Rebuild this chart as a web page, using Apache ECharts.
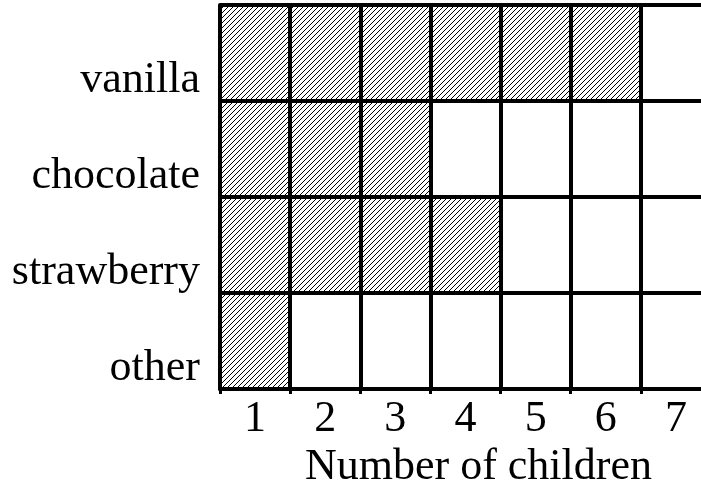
<!DOCTYPE html>
<html>
<head>
  <meta charset="UTF-8">
  <title>Number of children</title>
  <script src="https://cdn.jsdelivr.net/npm/echarts@6/dist/echarts.min.js"></script>
  <style>
    html, body { margin: 0; padding: 0; background: #fff; }
    #chart { width: 701px; height: 483px; }
  </style>
</head>
<body>
  <div id="chart"></div>
  <script>
    // data
    var flavours = ['other', 'strawberry', 'chocolate', 'vanilla'];
    var counts = [1, 4, 3, 6];
    var childTicks = ['1', '2', '3', '4', '5', '6', '7'];

    // hatch pattern "/" lines, 5px period
    function makeHatch() {
      var c = document.createElement('canvas');
      c.width = 5;
      c.height = 5;
      var ctx = c.getContext('2d');
      ctx.fillStyle = '#fff';
      ctx.fillRect(0, 0, 5, 5);
      ctx.fillStyle = '#000';
      for (var i = 0; i < 5; i++) {
        ctx.fillRect(i, 4 - i, 1, 1);
      }
      return c;
    }

    var font = '"Liberation Serif", "Times New Roman", serif';
    var chart = echarts.init(document.getElementById('chart'));

    chart.setOption({
      animation: false,
      grid: {
        left: 220, top: 5, width: 491, height: 384,
        containLabel: false, outerBoundsMode: 'none'
      },
      xAxis: [
        {
          type: 'category',
          data: childTicks,
          z: 5,
          axisLine: { lineStyle: { color: '#000', width: 4 } },
          axisTick: { show: true, length: 5, lineStyle: { color: '#000', width: 3 } },
          axisLabel: { color: '#000', fontFamily: font, fontSize: 44, margin: 8 },
          splitLine: { show: true, lineStyle: { color: '#000', width: 4 } },
          name: 'Number of children',
          nameLocation: 'middle',
          nameGap: 41,
          nameTextStyle: { color: '#000', fontFamily: font, fontSize: 44, padding: [0, 0, 0, 26] }
        },
        { type: 'value', min: 0, max: 7, show: false }
      ],
      yAxis: {
        type: 'category',
        data: flavours,
        z: 5,
        axisLine: { lineStyle: { color: '#000', width: 4 } },
        axisTick: { show: false },
        axisLabel: {
          color: '#000', fontFamily: font, fontSize: 44, margin: 20,
          verticalAlign: 'top', lineHeight: 54
        },
        splitLine: { show: true, lineStyle: { color: '#000', width: 4 } }
      },
      series: [{
        type: 'bar',
        xAxisIndex: 1,
        data: counts,
        barWidth: '100%',
        itemStyle: { color: { image: makeHatch(), repeat: 'repeat' } }
      }]
    });
  </script>
</body>
</html>
